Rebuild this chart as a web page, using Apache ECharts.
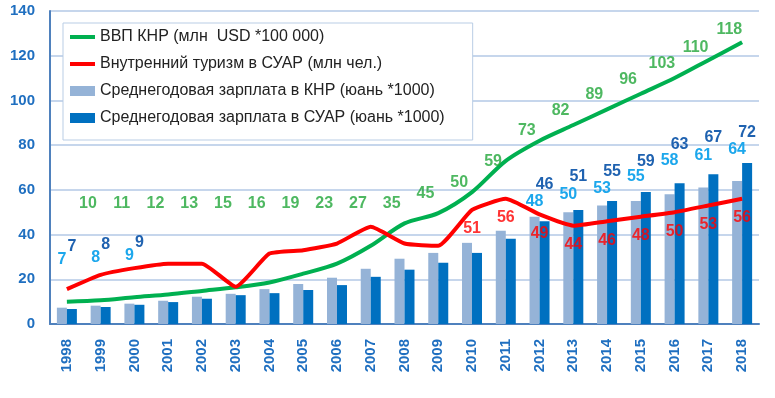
<!DOCTYPE html>
<html>
<head>
<meta charset="utf-8">
<script src="https://cdn.jsdelivr.net/npm/echarts@6/dist/echarts.min.js"></script>
<style>
  html, body { margin: 0; background: #fff; }
  #chart { width: 775px; height: 398px; }
</style>
</head>
<body>
<div id="chart"></div>
<script>
// data
const years = ['1998', '1999', '2000', '2001', '2002', '2003', '2004', '2005', '2006', '2007', '2008',
  '2009', '2010', '2011', '2012', '2013', '2014', '2015', '2016', '2017', '2018']
const gdp = [10, 10.6, 12, 13.2, 14.8, 16.4, 18.6, 22.5, 27, 35, 45, 49.6, 59, 73, 82, 89, 96, 103, 110, 118, 126]
const tourism = [15.6, 22, 25, 27, 27, 16.7, 31.5, 33, 36, 43.5, 36, 35, 51, 56, 49, 44, 46, 48, 50, 53, 56]
const wageChina = [7.3, 8.2, 9.1, 10.4, 12.2, 13.5, 15.6, 17.9, 20.7, 24.7, 29.2, 31.8, 36.3, 41.7, 48, 50, 53, 55, 58, 61, 64]
const wageXj = [6.7, 7.6, 8.6, 9.8, 11.3, 12.9, 13.8, 15.2, 17.4, 21.1, 24.3, 27.4, 31.8, 38.1, 46, 51, 55, 59, 63, 67, 72]
const yMin = 0, yMax = 140, yStep = 20

const names = [
  'ВВП КНР (млн  USD *100 000)',
  'Внутренний туризм в СУАР (млн чел.)',
  'Среднегодовая зарплата в КНР (юань *1000)',
  'Среднегодовая зарплата в СУАР (юань *1000)'
]

// label lifts (px above bar top) for 2012..2018, the labels were hand placed
const lightLift = [7, 10, 9, 16, 26, 24, 23]
const darkLift = [29, 25, 21, 22, 31, 29, 22]

const font = 'Liberation Sans, Arial, sans-serif'
const labelFont = { fontFamily: font, fontWeight: 'bold', fontSize: 16 }

// bar labels only on the first three and the last seven years
const barLabeled = (i) => i < 3 || i >= 14

const barData = (arr, color, early, late) => arr.map((v, i) => ({
  value: v,
  label: {
    show: barLabeled(i),
    position: 'top',
    distance: i < 3 ? early : (late[i - 14] ?? 0),
    color: color,
    ...labelFont,
    formatter: (p) => Math.round(p.value)
  }
}))

const lineIcon = 'path://M0,0L25,0L25,4L0,4Z'

const chart = echarts.init(document.getElementById('chart'))

const option = {
  animation: false,
  grid: { left: 50, right: 16, top: 11, bottom: 74 },
  legend: {
    orient: 'vertical',
    left: 63,
    top: 23,
    padding: [5, 28, 13, 7],
    itemGap: 9,
    itemWidth: 25,
    itemHeight: 10,
    backgroundColor: '#fff',
    borderColor: '#B9CDE5',
    borderWidth: 1,
    z: 10,
    data: [
      { name: names[0], icon: lineIcon },
      { name: names[1], icon: lineIcon },
      { name: names[2], icon: 'rect' },
      { name: names[3], icon: 'rect' }
    ],
    textStyle: { fontFamily: font, fontSize: 16, lineHeight: 18, color: '#222' }
  },
  xAxis: {
    type: 'category',
    data: years,
    axisTick: { show: false },
    axisLine: { lineStyle: { color: '#4F81BD', width: 2 } },
    axisLabel: {
      rotate: 90,
      margin: 15,
      interval: 0,
      color: '#1F6FC0',
      fontFamily: font,
      fontWeight: 'bold',
      fontSize: 15
    }
  },
  yAxis: {
    type: 'value',
    min: yMin,
    max: yMax,
    interval: yStep,
    axisLine: { show: true, lineStyle: { color: '#4F81BD', width: 2 } },
    axisTick: { show: false },
    splitLine: { lineStyle: { color: '#C6D6EC', width: 2 } },
    axisLabel: {
      margin: 15,
      color: '#1F6FC0',
      fontFamily: font,
      fontWeight: 'bold',
      fontSize: 15
    }
  },
  series: [
    {
      name: names[2],
      type: 'bar',
      barWidth: 10,
      barGap: '0%',
      itemStyle: { color: '#95B3D7' },
      data: barData(wageChina, '#1CA7EC', 40, lightLift),
      z: 2
    },
    {
      name: names[3],
      type: 'bar',
      barWidth: 10,
      barGap: '0%',
      itemStyle: { color: '#0070C0' },
      data: barData(wageXj, '#1F62B0', 54, darkLift),
      z: 2
    },
    {
      name: names[0],
      type: 'line',
      data: gdp,
      smooth: 0.3,
      symbol: 'none',
      lineStyle: { color: '#00B050', width: 4 },
      itemStyle: { color: '#00B050' },
      z: 4
    },
    {
      name: names[1],
      type: 'line',
      data: tourism,
      smooth: 0.15,
      symbol: 'none',
      lineStyle: { color: '#FF0000', width: 4 },
      itemStyle: { color: '#FF0000' },
      z: 5
    },
    {
      // tourism value labels from 2010 on, under the line
      name: 'tourism-labels',
      type: 'scatter',
      silent: true,
      symbolSize: 1,
      itemStyle: { color: 'rgba(0,0,0,0)' },
      data: tourism.map((v, i) => [i, v]).slice(12),
      label: {
        show: true,
        position: 'inside',
        offset: [0, 19],
        color: '#FF0000',
        ...labelFont,
        formatter: (p) => Math.round(p.value[1])
      },
      z: 6
    },
    {
      // GDP value labels, floated above the line (flat row early on)
      name: 'gdp-labels',
      type: 'scatter',
      silent: true,
      symbolSize: 1,
      itemStyle: { color: 'rgba(0,0,0,0)' },
      data: gdp.slice(0, 20).map((v, i) => [i, Math.max(v + 13.5, 54)]),
      label: {
        show: true,
        position: 'inside',
        offset: [21, 0],
        color: '#22A63A',
        ...labelFont,
        formatter: (p) => Math.round(gdp[p.dataIndex])
      },
      z: 6
    }
  ]
}

chart.setOption(option)
</script>
</body>
</html>
